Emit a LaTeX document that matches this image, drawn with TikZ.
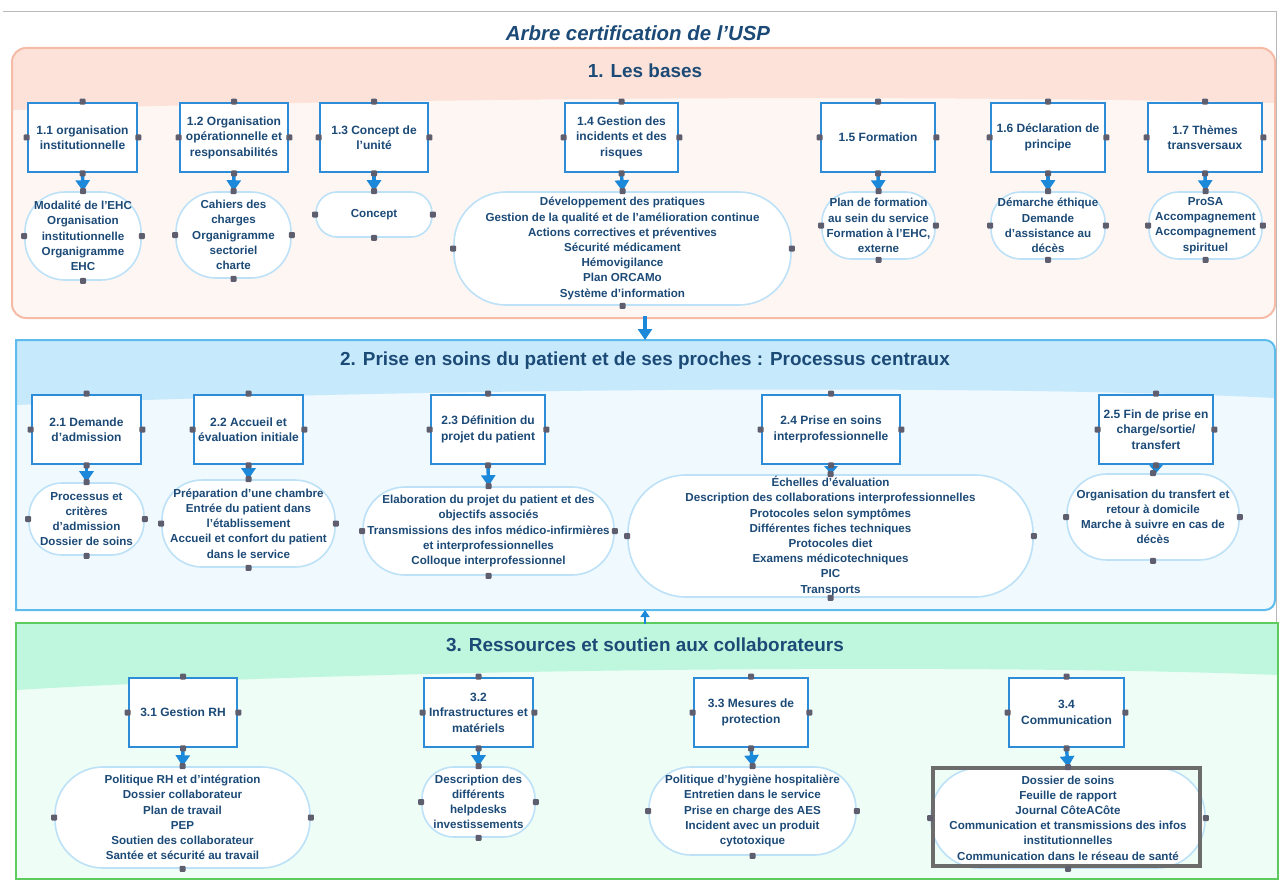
\documentclass[tikz,border=0pt]{standalone}
\usepackage{fontspec}
\setmainfont{Liberation Sans}
\usetikzlibrary{arrows.meta}
\definecolor{txtblue}{HTML}{1C4A77}
\definecolor{boxblue}{HTML}{2D8CD8}
\definecolor{ovalblue}{HTML}{BDE1F7}
\definecolor{arrowblue}{HTML}{1C88D9}
\definecolor{handlegray}{HTML}{5E5E6E}
\definecolor{sunborder}{HTML}{F6BBA6}
\definecolor{sunband}{HTML}{FCE2D8}
\definecolor{sunbody}{HTML}{FEF6F3}
\definecolor{skyborder}{HTML}{5DBCEB}
\definecolor{skyband}{HTML}{C6E9FB}
\definecolor{skybody}{HTML}{EFF9FE}
\definecolor{mintborder}{HTML}{5DCB60}
\definecolor{mintband}{HTML}{BEF7DE}
\definecolor{mintbody}{HTML}{EEFDF6}
\begin{document}
\begin{tikzpicture}[x=1pt,y=-1pt,
	box/.style={draw=boxblue, line width=2.8pt, fill=white, minimum height=69pt, align=center, inner sep=1pt, text=txtblue, font=\bfseries\fontsize{12}{15.5}\selectfont},
	oval/.style n args={3}{draw=ovalblue, line width=1.6pt, fill=white, minimum width=#1, minimum height=#2, rounded corners=#3, align=center, inner sep=0pt, text=txtblue, font=\bfseries\fontsize{11.6}{15.2}\selectfont},
	flow/.style={draw=arrowblue, line width=3.4pt, -{Triangle[width=14pt,length=11pt]}},
	shortflow/.style={draw=arrowblue, line width=3.4pt, -{Triangle[width=13pt,length=8pt]}},
	handle/.style={fill=handlegray, minimum size=6pt, inner sep=0pt, rounded corners=1pt},
	header/.style={text=txtblue, font=\bfseries\fontsize{18.9}{22}\selectfont}]
	\useasboundingbox (0,0) rectangle (1279,880);
	\fill[white] (0,0) rectangle (1279,880);
	\draw[gray!55, line width=1pt] (3,12) -- (1276,12) -- (1276,880);
	
	%Title
	\node[text=txtblue, font=\bfseries\itshape\fontsize{20.4}{24}\selectfont] (title) at (638,33) {Arbre certification de l’USP};
	
	%Section backgrounds
	\begin{scope}
		\clip[rounded corners=14pt] (12,48) rectangle (1275,318);
		\fill[sunbody] (12,48) rectangle (1275,318);
		\fill[sunband] (12,48) -- (1275,48) -- (1275,103) .. controls (900,94) and (400,98) .. (12,110) -- cycle;
	\end{scope}
	\draw[sunborder, line width=2pt, rounded corners=14pt] (12,48) rectangle (1275,318);
	\fill[skybody] (16,340) [rounded corners=10pt] -- (1275,340) -- (1275,610) [sharp corners] -- (16,610) -- cycle;
	\fill[skyband] (16,340) [rounded corners=10pt] -- (1275,340) [sharp corners] -- (1275,398) .. controls (1000,384) and (400,388) .. (16,405) -- cycle;
	\draw[skyborder, line width=2pt] (16,340) [rounded corners=10pt] -- (1275,340) -- (1275,610) [sharp corners] -- (16,610) -- cycle;
	\fill[mintbody] (16,623) rectangle (1278,880);
	\fill[mintband] (16,623) -- (1278,623) -- (1278,675) .. controls (1000,664) and (400,667) .. (16,690) -- cycle;
	\draw[mintborder, line width=2pt] (16,623) rectangle (1278,879);
	
	%Headers
	\node[header] (h1) at (645,71) {1. Les bases};
	\node[header] (h2) at (645,361) {2. Prise en soins du patient et de ses proches : Processus centraux};
	\node[header] (h3) at (645,645) {3. Ressources et soutien aux collaborateurs};
	
	%Section 1
	\node[box, minimum width=109pt] (b11) at (82.5,137.5) {1.1 organisation\\institutionnelle};
	\node[box, minimum width=108pt] (b12) at (234,137.5) {1.2 Organisation\\opérationnelle et\\responsabilités};
	\node[box, minimum width=108pt] (b13) at (374,137.5) {1.3 Concept de\\l'unité};
	\node[box, minimum width=113pt] (b14) at (621.5,137.5) {1.4 Gestion des\\incidents et des\\risques};
	\node[box, minimum width=114pt] (b15) at (878,137.5) {1.5 Formation};
	\node[box, minimum width=114pt] (b16) at (1048,137.5) {1.6 Déclaration de\\principe};
	\node[box, minimum width=114pt] (b17) at (1205,137.5) {1.7 Thèmes\\transversaux};
	
	\node[oval={116pt}{88pt}{40pt}] (o11) at (83,236) {Modalité de l'EHC\\Organisation\\institutionnelle\\Organigramme\\EHC};
	\node[oval={115pt}{86pt}{40pt}] (o12) at (233.5,235) {Cahiers des\\charges\\Organigramme\\sectoriel\\charte};
	\node[oval={116pt}{45pt}{21pt}] (o13) at (374,214.5) {Concept};
	\node[oval={337pt}{113pt}{52pt}] (o14) at (622.5,248.5) {Développement des pratiques\\Gestion de la qualité et de l'amélioration continue\\Actions correctives et préventives\\Sécurité médicament\\Hémovigilance\\Plan ORCAMo\\Système d'information};
	\node[oval={113pt}{67pt}{30pt}] (o15) at (878.5,225.5) {Plan de formation\\au sein du service\\Formation à l'EHC,\\externe};
	\node[oval={114pt}{67pt}{30pt}] (o16) at (1048,225.5) {Démarche éthique\\Demande\\d'assistance au\\décès};
	\node[oval={113pt}{67pt}{30pt}] (o17) at (1205.5,225.5) {ProSA\\Accompagnement\\Accompagnement\\spirituel};
	
	%Section 2
	\node[box, minimum width=109pt] (b21) at (86.5,429.5) {2.1 Demande\\d'admission};
	\node[box, minimum width=109pt] (b22) at (248.5,429.5) {2.2 Accueil et\\évaluation initiale};
	\node[box, minimum width=114pt] (b23) at (488,429.5) {2.3 Définition du\\projet du patient};
	\node[box, minimum width=138pt] (b24) at (831,429.5) {2.4 Prise en soins\\interprofessionnelle};
	\node[box, minimum width=114pt] (b25) at (1156,429.5) {2.5 Fin de prise en\\charge/sortie/\\transfert};
	
	\node[oval={115pt}{72pt}{33pt}] (o21) at (86.5,519) {Processus et\\critères\\d'admission\\Dossier de soins};
	\node[oval={173pt}{87pt}{40pt}] (o22) at (248.5,523.5) {Préparation d'une chambre\\Entrée du patient dans\\l'établissement\\Accueil et confort du patient\\dans le service};
	\node[oval={251pt}{88pt}{42pt}] (o23) at (488.5,531) {Elaboration du projet du patient et des\\objectifs associés\\Transmissions des infos médico-infirmières\\et interprofessionnelles\\Colloque interprofessionnel};
	\node[oval={405pt}{122pt}{58pt}] (o24) at (830.5,536) {Échelles d'évaluation\\Description des collaborations interprofessionnelles\\Protocoles selon symptômes\\Différentes fiches techniques\\Protocoles diet\\Examens médicotechniques\\PIC\\Transports};
	\node[oval={172pt}{86pt}{40pt}] (o25) at (1153,517) {Organisation du transfert et\\retour à domicile\\Marche à suivre en cas de\\décès};
	
	%Section 3
	\node[box, minimum width=108pt] (b31) at (183,712.5) {3.1 Gestion RH};
	\node[box, minimum width=109pt] (b32) at (478.5,712.5) {3.2\\Infrastructures et\\matériels};
	\node[box, minimum width=114pt] (b33) at (751,712.5) {3.3 Mesures de\\protection};
	\node[box, minimum width=115pt] (b34) at (1066.5,712.5) {3.4\\Communication};
	
	\node[oval={255pt}{101pt}{48pt}] (o31) at (182.5,817.5) {Politique RH et d'intégration\\Dossier collaborateur\\Plan de travail\\PEP\\Soutien des collaborateur\\Santée et sécurité au travail};
	\node[oval={113pt}{70pt}{32pt}] (o32) at (478.5,802) {Description des\\différents\\helpdesks\\investissements};
	\node[oval={207pt}{88pt}{42pt}] (o33) at (752.5,811) {Politique d'hygiène hospitalière\\Entretien dans le service\\Prise en charge des AES\\Incident avec un produit\\cytotoxique};
	\node[oval={274pt}{100pt}{48pt}] (o34) at (1068,818) {Dossier de soins\\Feuille de rapport\\Journal CôteACôte\\Communication et transmissions des infos\\institutionnelles\\Communication dans le réseau de santé};
	\draw[gray!85!black, line width=3.5pt] (933,768) rectangle (1200,866);
	
	%connections
	\foreach \n in {11,12,13,14,15,16,17,21,22,23,31,32,33,34}
		\draw[flow] (b\n.south) -- (o\n.north);
	\draw[shortflow] (b24.south) -- (b24.south |- o24.north);
	\draw[shortflow] (b25.south) -- (b25.south |- o25.north);
	\coordinate (s1s) at (645,316);
	\coordinate (s2n) at (645,340);
	\coordinate (s3n) at (645,624);
	\coordinate (s2s) at (645,610);
	\draw[flow] (s1s) -- (s2n);
	\draw[draw=arrowblue, line width=2pt, -{Triangle[width=9pt,length=7pt]}] (s3n) -- (s2s);
	
	%handles
	\foreach \n in {b11,b12,b13,b14,b15,b16,b17,o11,o12,o13,o14,o15,o16,o17,b21,b22,b23,b24,b25,o21,o22,o23,o24,o25,b31,b32,b33,b34,o31,o32,o33,o34}
		\foreach \a in {north,south,east,west}
			\node[handle] (h-\n-\a) at (\n.\a) {};
	
\end{tikzpicture}
\end{document}
